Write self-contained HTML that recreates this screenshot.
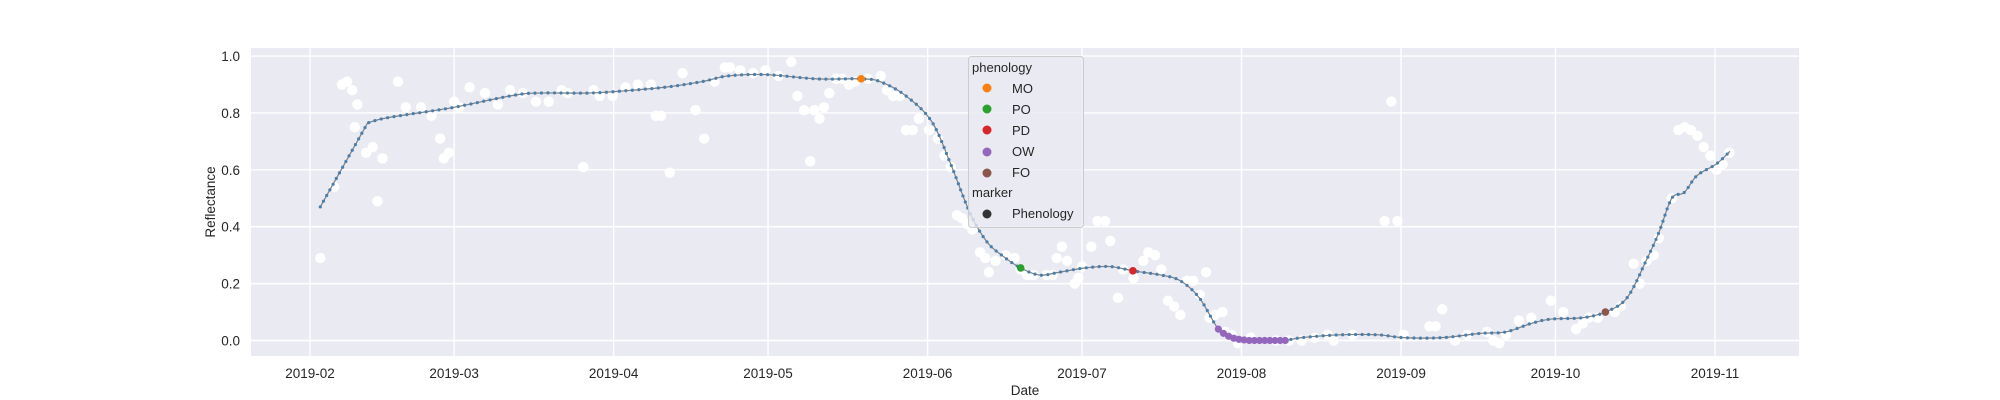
<!DOCTYPE html>
<html><head><meta charset="utf-8"><style>
html,body{margin:0;padding:0;background:#fff;}
svg{display:block;font-family:"Liberation Sans",Arial,sans-serif;}
</style></head><body>
<svg id="chart" width="2000" height="400" xmlns="http://www.w3.org/2000/svg">
<rect x="251" y="48" width="1548" height="308" fill="#EAEAF2"/>
<g id="grid"></g>
<g id="ticks"></g>
<g id="scatter"></g>
<path id="smooth" fill="none" stroke="#7f7f7f" stroke-width="1.2"/>
<g id="sdots"></g>
<g id="pheno"></g>
<text x="215" y="202" font-size="13.5" fill="#262626" text-anchor="middle" transform="rotate(-90 215 202)">Reflectance</text>
<text x="1025" y="395" font-size="13.5" fill="#262626" text-anchor="middle">Date</text>
<g>
<rect x="968.5" y="56.5" width="115" height="171" rx="3" fill="#EAEAF2" fill-opacity="0.8" stroke="#cccccc"/>
<text x="972" y="72" font-size="13" fill="#262626">phenology</text>
<circle cx="987" cy="88" r="4.5" fill="#ff7f0e"/>
<text x="1012" y="93" font-size="13" fill="#262626">MO</text>
<circle cx="987" cy="109" r="4.5" fill="#2ca02c"/>
<text x="1012" y="114" font-size="13" fill="#262626">PO</text>
<circle cx="987" cy="130" r="4.5" fill="#d62728"/>
<text x="1012" y="135" font-size="13" fill="#262626">PD</text>
<circle cx="987" cy="152" r="4.5" fill="#9467bd"/>
<text x="1012" y="156" font-size="13" fill="#262626">OW</text>
<circle cx="987" cy="173" r="4.5" fill="#8c564b"/>
<text x="1012" y="177" font-size="13" fill="#262626">FO</text>
<text x="972" y="197" font-size="13" fill="#262626">marker</text>
<circle cx="987" cy="214" r="4.5" fill="#333333"/>
<text x="1012" y="218" font-size="13" fill="#262626">Phenology</text>
</g>
</svg>
<script>
// days since 2019-02-01
const xTickLabels = ["2019-02","2019-03","2019-04","2019-05","2019-06","2019-07","2019-08","2019-09","2019-10","2019-11"];
const xTickDays = [0,28,59,89,120,150,181,212,242,273];
const yTicks = [0.0,0.2,0.4,0.6,0.8,1.0];
const smoothDays = [2,11.2,14.1,19.1,28,38.9,43.9,53.8,59,68.7,76.1,81.1,88.5,98.4,107.1,110.8,115.8,120.8,124.5,128.2,131.4,134.4,138.1,141.8,145.6,150.5,155.5,159.9,165.4,169.1,172.8,176.5,179,182.7,188.9,192.7,200.1,207.5,212.5,219.9,227.4,232.3,237.3,241,247.2,251.7,255.9,259.6,262.1,264.6,267,269.5,273.2,275.9];
const smoothVals = [0.47,0.765,0.78,0.795,0.82,0.86,0.87,0.87,0.875,0.89,0.91,0.93,0.935,0.92,0.92,0.91,0.86,0.77,0.62,0.45,0.35,0.3,0.255,0.23,0.24,0.255,0.26,0.245,0.23,0.21,0.15,0.04,0.01,0.0,0.0,0.01,0.02,0.02,0.01,0.01,0.025,0.03,0.06,0.075,0.08,0.1,0.15,0.28,0.38,0.5,0.52,0.58,0.62,0.665];
const obsDays = [2,4.7,6.2,7.2,8.2,8.7,9.2,10.9,12.2,13.1,14.1,17.1,18.6,21.6,23.6,25.3,26,27,28,29,31,34,36.5,38.9,41.4,43.9,46.4,48.9,50.1,53.1,55.1,56.3,58.8,61.3,63.7,66.2,67.2,68.2,69.9,72.4,74.9,76.6,78.6,80.6,81.6,83.6,86.1,88.5,91,93.5,94.7,96,97.2,98,99,99.9,100.9,102.2,103.4,104.7,105.9,108.4,110.9,112.1,113.3,114.6,115.8,117.1,118.3,120.3,122,123.3,124.5,125.7,126.7,127.7,128.7,130.2,131.2,131.9,133.2,135.2,136.9,138.1,139.4,140.6,143.1,144.3,145.1,146.1,147.1,148.6,149.3,150,151.8,153,154.5,155.5,157,158,160,161.9,162.9,164.2,165.4,166.7,167.9,169.1,170.4,171.6,172.9,174.1,174.8,175.8,177.3,177.8,179,180.3,182.8,187.7,190.2,192.7,195.2,197.7,198.9,202.6,208.8,210.1,211.3,212.5,217.5,218.7,220,222.5,224.9,228.7,229.9,231.1,232.4,234.9,237.3,241.1,243.5,246,247.3,248.5,250.2,253.5,254.7,257.2,258.4,259.7,261.1,262.1,264.6,265.9,267.1,268.3,269.6,270.8,272.1,273.3,274.5,275.8];
const obsVals = [0.29,0.54,0.9,0.91,0.88,0.75,0.83,0.66,0.68,0.49,0.64,0.91,0.82,0.82,0.79,0.71,0.64,0.66,0.84,0.82,0.89,0.87,0.83,0.88,0.87,0.84,0.84,0.88,0.87,0.61,0.88,0.86,0.86,0.89,0.9,0.9,0.79,0.79,0.59,0.94,0.81,0.71,0.91,0.96,0.96,0.95,0.94,0.95,0.93,0.98,0.86,0.81,0.63,0.81,0.78,0.82,0.87,0.92,0.92,0.9,0.91,0.92,0.93,0.88,0.86,0.86,0.74,0.74,0.78,0.74,0.71,0.65,0.61,0.44,0.43,0.41,0.39,0.31,0.29,0.24,0.28,0.3,0.29,0.25,0.23,0.23,0.23,0.23,0.29,0.33,0.28,0.2,0.22,0.26,0.33,0.42,0.42,0.35,0.15,0.25,0.22,0.28,0.31,0.3,0.25,0.14,0.12,0.09,0.21,0.21,0.16,0.24,0.08,0.09,0.1,0.03,0.02,-0.01,0.01,0.0,0.0,0.0,0.01,0.02,0.0,0.02,0.42,0.84,0.42,0.02,0.05,0.05,0.11,0.0,0.02,0.03,0.0,-0.01,0.02,0.07,0.08,0.14,0.1,0.04,0.06,0.08,0.08,0.1,0.12,0.27,0.2,0.28,0.3,0.36,0.5,0.74,0.75,0.74,0.72,0.68,0.65,0.6,0.62,0.66];
const owDays = [176.5,177.5,178.5,179.5,180.5,181.5,182.5,183.5,184.5,185.5,186.5,187.5,188.5,189.5];
const owVals = [0.04,0.025,0.015,0.008,0.004,0.002,0.0,0.0,0.0,0.0,0.0,0.0,0.0,0.0];
const phenoNames = ["MO","PO","PD","FO"];
const phenoDays = [107.1,138.1,159.9,251.7];
const phenoVals = [0.92,0.255,0.245,0.1];
const phenoColors = ["#ff7f0e","#2ca02c","#d62728","#8c564b"];

const NS="http://www.w3.org/2000/svg";
const X = d => 310 + d*(1715-310)/273;
const Y = v => 340.5 - v*(340.5-56.1);
function mk(tag, attrs, parent){const e=document.createElementNS(NS,tag);for(const k in attrs)e.setAttribute(k,attrs[k]);parent.appendChild(e);return e;}
const grid=document.getElementById('grid'), ticks=document.getElementById('ticks');
xTickDays.forEach((d,i)=>{
  const l=mk('line',{x1:X(d),x2:X(d),y1:48,y2:356,stroke:'#fff','stroke-width':1.4},grid);
  
  
  const t=mk('text',{x:X(d),y:378,'font-size':13.5,fill:'#262626','text-anchor':'middle'},ticks);
  t.textContent=xTickLabels[i];
  
  
});
yTicks.forEach(v=>{
  const l=mk('line',{x1:251,x2:1799,y1:Y(v),y2:Y(v),stroke:'#fff','stroke-width':1.4},grid);
  
  
  const t=mk('text',{x:240,y:Y(v)+5,'font-size':13.5,fill:'#262626','text-anchor':'end'},ticks);
  t.textContent=v.toFixed(1);
  
  
});
const sc=document.getElementById('scatter');
obsDays.forEach((d,i)=>{
  const c=mk('circle',{cx:X(d),cy:Y(obsVals[i]),r:5.2,fill:'#ffffff'},sc);
  
  
});
// smooth path: first segment linear, then Catmull-Rom
const P=smoothDays.map((d,i)=>[X(d),Y(smoothVals[i])]);
let dstr=`M${P[0][0]},${P[0][1]} L${P[1][0]},${P[1][1]}`;
for(let i=1;i<P.length-1;i++){
  const p0=(i===1)?P[i]:P[i-1],p1=P[i],p2=P[i+1],p3=P[i+2]||P[i+1];
  const c1=[p1[0]+(p2[0]-p0[0])/6,p1[1]+(p2[1]-p0[1])/6];
  const c2=[p2[0]-(p3[0]-p1[0])/6,p2[1]-(p3[1]-p1[1])/6];
  dstr+=` C${c1[0]},${c1[1]} ${c2[0]},${c2[1]} ${p2[0]},${p2[1]}`;
}
const path=document.getElementById('smooth');
path.setAttribute('d',dstr);
const sd=document.getElementById('sdots');
const L=path.getTotalLength();
for(let s=0;s<=L;s+=6.5){
  const pt=path.getPointAtLength(s);
  const c=mk('circle',{cx:pt.x,cy:pt.y,r:1.6,fill:'#4a7fab'},sd);
  
  
}
const ph=document.getElementById('pheno');
owDays.forEach((d,i)=>{
  const c=mk('circle',{cx:X(d),cy:Y(owVals[i]),r:3.6,fill:'#9467bd'},ph);
  
  
});
phenoDays.forEach((d,i)=>{
  const c=mk('circle',{cx:X(d),cy:Y(phenoVals[i]),r:3.8,fill:phenoColors[i]},ph);
  
  
});
</script>
</body></html>
